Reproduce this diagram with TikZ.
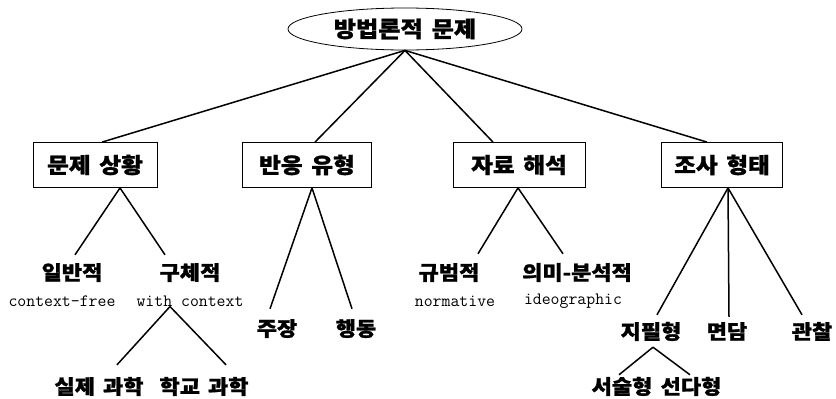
\documentclass[tikz,border=0pt]{standalone}
\usepackage{fontspec}
\newfontfamily\kr{Noto Sans CJK KR}[FakeStretch=1.1, WordSpace=1.6, BoldFeatures={FakeBold=1.2}]
\usetikzlibrary{shapes.geometric}
\begin{document}
\begin{tikzpicture}[x=1pt,y=-1pt,
  conn/.style={line width=1.5pt},
  rootnode/.style={draw, ellipse, line width=0.8pt, minimum width=234pt, minimum height=42pt, inner sep=0pt,
    font=\kr\bfseries\fontsize{22}{22}\selectfont},
  box/.style={draw, line width=0.8pt, minimum height=45pt, inner sep=0pt,
    font=\kr\bfseries\fontsize{21.5}{22}\selectfont},
  kl/.style={inner sep=0pt, text height=15pt, text depth=3pt,
    font=\kr\bfseries\fontsize{20}{20}\selectfont},
  en/.style={inner sep=0pt, font=\ttfamily\fontsize{17.3}{18}\selectfont}]
\useasboundingbox (0,0) rectangle (836,399);

\node[rootnode] (root) at (405,29) {방법론적 문제};

\node[box, minimum width=124pt] (b1) at (95,165) {문제 상황};
\node[box, minimum width=129pt] (b2) at (307,165) {반응 유형};
\node[box, minimum width=132pt] (b3) at (519,165) {자료 해석};
\node[box, minimum width=121pt] (b4) at (722,165) {조사 형태};

\draw[conn] (root.south) -- ([xshift=7pt]b1.north);
\draw[conn] (root.south) -- ([xshift=8pt]b2.north);
\draw[conn] (root.south) -- ([xshift=-26pt]b3.north);
\draw[conn] (root.south) -- ([xshift=-15pt]b4.north);

% branch 1
\node[kl] (gen) at (72,274) {일반적};
\node[kl] (spec) at (190,274) {구체적};
\node[en] (cf) at (62,301) {context-free};
\node[en] (wc) at (190,301) {with context};
\node[kl] (real) at (99,388) {실제 과학};
\node[kl] (school) at (204,388) {학교 과학};
\draw[conn] ([xshift=25pt]b1.south) -- ([xshift=3pt,yshift=10pt]gen.north);
\draw[conn] ([xshift=25pt]b1.south) -- ([xshift=-25pt,yshift=10pt]spec.north);
\draw[conn] ([xshift=-20pt]wc.south) -- ([xshift=18pt,yshift=14pt]real.north);
\draw[conn] ([xshift=-20pt]wc.south) -- ([xshift=22pt,yshift=14pt]school.north);

% branch 2
\node[kl] (claim) at (277,330) {주장};
\node[kl] (act) at (356,330) {행동};
\draw[conn] ([xshift=5pt]b2.south) -- ([xshift=-7pt,yshift=12pt]claim.north);
\draw[conn] ([xshift=5pt]b2.south) -- ([xshift=-4pt,yshift=12pt]act.north);

% branch 3
\node[kl] (norm) at (449,274) {규범적};
\node[kl] (ideo) at (577,274) {의미-분석적};
\node[en] (normen) at (455,301) {normative};
\node[en] (ideoen) at (573,301) {ideographic};
\draw[conn] ([xshift=-1pt]b3.south) -- ([xshift=29pt,yshift=11pt]norm.north);
\draw[conn] ([xshift=-1pt]b3.south) -- ([xshift=-14pt,yshift=11pt]ideo.north);

% branch 4
\node[kl] (paper) at (651,333) {지필형};
\node[kl] (intv) at (727,333) {면담};
\node[kl] (obs) at (812,333) {관찰};
\node[kl] (desc) at (622,388) {서술형};
\node[kl] (mc) at (691,388) {선다형};
\draw[conn] ([xshift=6pt]b4.south) -- ([xshift=6pt,yshift=9pt]paper.north);
\draw[conn] ([xshift=6pt]b4.south) -- ([xshift=2pt,yshift=7pt]intv.north);
\draw[conn] ([xshift=6pt]b4.south) -- ([xshift=-10pt,yshift=9pt]obs.north);
\draw[conn] ([xshift=2pt,yshift=-5pt]paper.south) -- ([xshift=-3pt,yshift=4pt]desc.north);
\draw[conn] ([xshift=2pt,yshift=-5pt]paper.south) -- ([xshift=-1pt,yshift=4pt]mc.north);
\end{tikzpicture}
\end{document}
